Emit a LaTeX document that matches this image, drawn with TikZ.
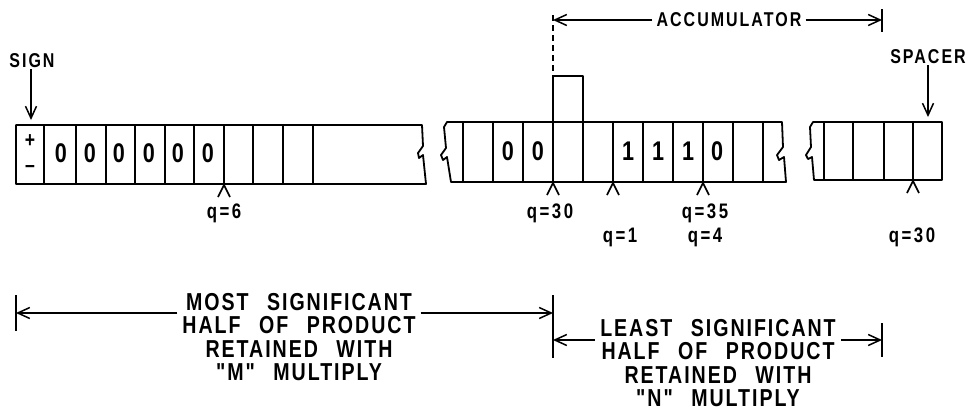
\documentclass[tikz,border=0pt]{standalone}
\usepackage{fontspec}
\setmainfont{Liberation Sans Bold}[FakeStretch=0.8, WordSpace=2.5, Ligatures=TeXOff]
\usetikzlibrary{arrows.meta}

\tikzset{
  lettering/.style={font=\fontsize{20}{24}\selectfont\addfontfeatures{LetterSpace=10}, inner sep=1pt},
  digit/.style={font=\fontsize{27}{30}\selectfont, inner sep=0pt},
  signmark/.style={font=\fontsize{22}{24}\selectfont, inner sep=0pt},
  qlabel/.style={font=\fontsize{21}{24}\selectfont\addfontfeatures{LetterSpace=12}, inner sep=1pt},
  halfnote/.style={font=\fontsize{24.5}{23.5}\selectfont\addfontfeatures{LetterSpace=8}, align=center, inner sep=5pt},
  reg/.style={line width=1.8pt, line join=round},
  dim/.style={line width=1.5pt, -{Straight Barb[length=12pt,width=11pt,line width=1.5pt]}},
  caret/.style={line width=1.6pt},
}

\begin{document}
\begin{tikzpicture}[x=1pt, y=-1pt]
    \useasboundingbox (0,0) rectangle (975,413);

    % Word with sign and zeros
    \draw[reg] (422,125) -- (16,125) -- (16,184) -- (426,184) -- (423,155)
        -- (419,158) -- (418,153) -- (423,146) -- cycle;
    \foreach \x in {44,76,106,135,165,194,224,253,283,313}
        \draw[reg] (\x,125) -- (\x,184);
    \node[signmark] (plus) at (30,141) {+};
    \node[signmark] (minus) at (30,169) {\textendash};
    \foreach \x [count=\i] in {61,90,119,149,178,208}
        \node[digit] (z\i) at (\x,153) {0};

    % Middle word with accumulator
    \draw[reg] (447,122) -- (782,122) -- (783,147) -- (777,155) -- (779,160)
        -- (784,157) -- (786,182) -- (451,182) -- (447,157) -- (443,160)
        -- (441,155) -- (446,148) -- (444,127) -- cycle;
    \foreach \x in {463,493,...,763}
        \draw[reg] (\x,122) -- (\x,182);
    \draw[reg] (553,122) -- (553,76) -- (583,76) -- (583,122);
    \node[digit] (m1) at (508,151) {0};
    \node[digit] (m2) at (538,151) {0};
    \node[digit] (m3) at (628,151) {1};
    \node[digit] (m4) at (658,151) {1};
    \node[digit] (m5) at (688,151) {1};
    \node[digit] (m6) at (717,151) {0};

    % Spacer word
    \draw[reg] (813,122) -- (942,122) -- (942,180) -- (814,180) -- (812,157)
        -- (808,159) -- (806,155) -- (811,147) -- (810,127) -- cycle;
    \foreach \x in {824,853,884,913}
        \draw[reg] (\x,122) -- (\x,180);

    % Markers
    \foreach \x/\y in {224/185,553/183,613/183,703/183,913/181}
        \draw[caret] (\x-6,\y+12) -- (\x,\y) -- (\x+6,\y+12);
    \node[qlabel] (q6) at (224,213) {q=6};
    \node[qlabel] (qa) at (550,213) {q=30};
    \node[qlabel] (qb) at (620,237) {q=1};
    \node[qlabel] (qc) at (705,213) {q=35};
    \node[qlabel] (qd) at (705,237) {q=4};
    \node[qlabel] (qe) at (912,237) {q=30};

    % Top labels
    \node[lettering] (sign) at (32,61) {SIGN};
    \coordinate (signtip) at (31,120);
    \draw[dim] (sign.south -| signtip) -- (signtip);
    \node[lettering] (spacer) at (928,57) {SPACER};
    \coordinate (spacertip) at (928,117);
    \draw[dim] (spacer.south -| spacertip) -- (spacertip);

    \node[lettering, inner sep=4pt] (acc) at (729,20) {ACCUMULATOR};
    \coordinate (accL) at (553,20);
    \coordinate (accR) at (882,20);
    \draw[dim] (acc.west) -- (accL);
    \draw[dim] (acc.east) -- (accR);
    \draw[reg] (882,9) -- (882,32);
    \draw[reg, dash pattern=on 6pt off 4pt] (553,15) -- (553,76);

    % Halves of product
    \node[halfnote] (most) at (299,337) {MOST SIGNIFICANT\\HALF OF PRODUCT\\RETAINED WITH\\"M" MULTIPLY};
    \coordinate (mostL) at (16,313);
    \coordinate (mostR) at (553,313);
    \draw[dim] (most.west |- mostL) -- (mostL);
    \draw[dim] (most.east |- mostR) -- (mostR);
    \draw[reg] (16,295) -- (16,331);
    \draw[reg] (553,295) -- (553,358);

    \node[halfnote] (least) at (718,363) {LEAST SIGNIFICANT\\HALF OF PRODUCT\\RETAINED WITH\\"N" MULTIPLY};
    \coordinate (leastL) at (553,340);
    \coordinate (leastR) at (882,340);
    \draw[dim] (least.west |- leastL) -- (leastL);
    \draw[dim] (least.east |- leastR) -- (leastR);
    \draw[reg] (882,323) -- (882,357);
\end{tikzpicture}
\end{document}
